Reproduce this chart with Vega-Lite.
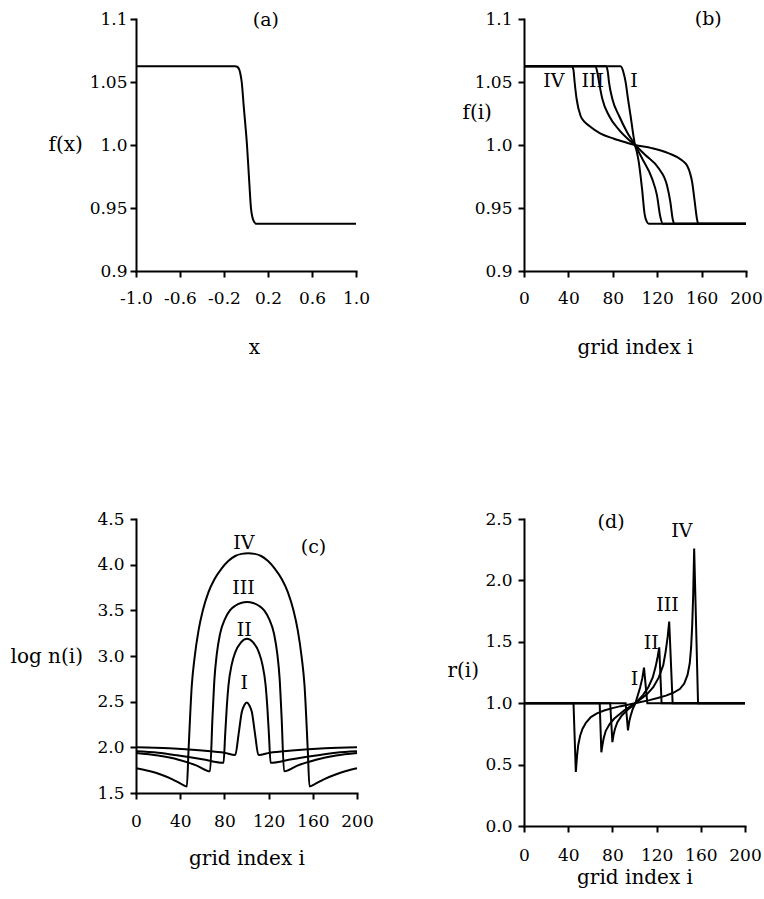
{
  "$schema": "https://vega.github.io/schema/vega-lite/v6.json",
  "background": "white",
  "padding": {"left": 10, "top": 10, "right": 5, "bottom": 5},
  "columns": 2,
  "spacing": {"row": 193, "column": 166},
  "bounds": "flush",
  "align": "all",
  "datasets": {
    "a": [
      {"x": -1, "f": 1.0625}, {"x": -0.5, "f": 1.0625}, {"x": -0.1, "f": 1.0625}, {"x": -0.08, "f": 1.0621},
      {"x": -0.06, "f": 1.0595}, {"x": -0.05, "f": 1.056}, {"x": -0.039, "f": 1.05}, {"x": -0.02, "f": 1.03},
      {"x": 0.009, "f": 1.0}, {"x": 0.03, "f": 0.97}, {"x": 0.045, "f": 0.95}, {"x": 0.06, "f": 0.942},
      {"x": 0.075, "f": 0.9388}, {"x": 0.09, "f": 0.9375}, {"x": 1, "f": 0.9375}
    ],
    "b": [
      {"s": "IV", "i": 0, "f": 1.0625}, {"s": "IV", "i": 43, "f": 1.0625}, {"s": "IV", "i": 44.5, "f": 1.06}, {"s": "IV", "i": 45.6, "f": 1.05},
      {"s": "IV", "i": 47.4, "f": 1.0365}, {"s": "IV", "i": 51, "f": 1.023}, {"s": "IV", "i": 55, "f": 1.018}, {"s": "IV", "i": 58.6, "f": 1.0153},
      {"s": "IV", "i": 69, "f": 1.009}, {"s": "IV", "i": 81, "f": 1.005}, {"s": "IV", "i": 92, "f": 1.002}, {"s": "IV", "i": 100, "f": 1.0},
      {"s": "IV", "i": 115, "f": 0.9975}, {"s": "IV", "i": 130, "f": 0.9935}, {"s": "IV", "i": 142, "f": 0.988}, {"s": "IV", "i": 147, "f": 0.9835},
      {"s": "IV", "i": 149.5, "f": 0.978}, {"s": "IV", "i": 151.4, "f": 0.971}, {"s": "IV", "i": 153.8, "f": 0.955}, {"s": "IV", "i": 155.9, "f": 0.941},
      {"s": "IV", "i": 157, "f": 0.9375}, {"s": "IV", "i": 200, "f": 0.9375},
      {"s": "III", "i": 0, "f": 1.0625}, {"s": "III", "i": 64, "f": 1.0625}, {"s": "III", "i": 66, "f": 1.058}, {"s": "III", "i": 67.6, "f": 1.0497},
      {"s": "III", "i": 70.6, "f": 1.0365}, {"s": "III", "i": 76.6, "f": 1.0232}, {"s": "III", "i": 85.6, "f": 1.012}, {"s": "III", "i": 94.6, "f": 1.004},
      {"s": "III", "i": 100, "f": 1.0}, {"s": "III", "i": 109.3, "f": 0.992}, {"s": "III", "i": 121.3, "f": 0.9815}, {"s": "III", "i": 128.8, "f": 0.968},
      {"s": "III", "i": 131.8, "f": 0.955}, {"s": "III", "i": 134, "f": 0.941}, {"s": "III", "i": 135.5, "f": 0.9375}, {"s": "III", "i": 200, "f": 0.9375},
      {"s": "II", "i": 0, "f": 1.0625}, {"s": "II", "i": 74, "f": 1.0625}, {"s": "II", "i": 75.5, "f": 1.058}, {"s": "II", "i": 76.6, "f": 1.0497},
      {"s": "II", "i": 79.6, "f": 1.0365}, {"s": "II", "i": 85.6, "f": 1.0232}, {"s": "II", "i": 93, "f": 1.01}, {"s": "II", "i": 100, "f": 1.0},
      {"s": "II", "i": 106.3, "f": 0.9895}, {"s": "II", "i": 115.3, "f": 0.9735}, {"s": "II", "i": 119.8, "f": 0.96}, {"s": "II", "i": 122.8, "f": 0.943},
      {"s": "II", "i": 125, "f": 0.9375}, {"s": "II", "i": 200, "f": 0.9375},
      {"s": "I", "i": 0, "f": 1.0625}, {"s": "I", "i": 87, "f": 1.0625}, {"s": "I", "i": 89.5, "f": 1.058}, {"s": "I", "i": 91.6, "f": 1.0497},
      {"s": "I", "i": 93.7, "f": 1.0365}, {"s": "I", "i": 96, "f": 1.0232}, {"s": "I", "i": 99, "f": 1.005}, {"s": "I", "i": 100, "f": 1.0},
      {"s": "I", "i": 101.5, "f": 0.995}, {"s": "I", "i": 103.3, "f": 0.987}, {"s": "I", "i": 106.3, "f": 0.9655}, {"s": "I", "i": 108.7, "f": 0.945},
      {"s": "I", "i": 110.7, "f": 0.939}, {"s": "I", "i": 112.5, "f": 0.9375}, {"s": "I", "i": 200, "f": 0.9375}
    ],
    "c": [
      {"s": "IV", "i": 0, "v": 1.77}, {"s": "IV", "i": 12, "v": 1.74}, {"s": "IV", "i": 23, "v": 1.7}, {"s": "IV", "i": 33, "v": 1.65},
      {"s": "IV", "i": 41.5, "v": 1.595}, {"s": "IV", "i": 46, "v": 1.572}, {"s": "IV", "i": 47.5, "v": 1.956}, {"s": "IV", "i": 50.5, "v": 2.68},
      {"s": "IV", "i": 53, "v": 2.98}, {"s": "IV", "i": 56.6, "v": 3.28}, {"s": "IV", "i": 60.5, "v": 3.5}, {"s": "IV", "i": 65.6, "v": 3.7},
      {"s": "IV", "i": 71, "v": 3.84}, {"s": "IV", "i": 77.6, "v": 3.96}, {"s": "IV", "i": 83.5, "v": 4.04}, {"s": "IV", "i": 89.8, "v": 4.095},
      {"s": "IV", "i": 95.5, "v": 4.118}, {"s": "IV", "i": 101.5, "v": 4.125}, {"s": "IV", "i": 107.5, "v": 4.118}, {"s": "IV", "i": 113.2, "v": 4.095},
      {"s": "IV", "i": 119.5, "v": 4.04}, {"s": "IV", "i": 125.4, "v": 3.96}, {"s": "IV", "i": 132, "v": 3.84}, {"s": "IV", "i": 137.4, "v": 3.7},
      {"s": "IV", "i": 142.5, "v": 3.5}, {"s": "IV", "i": 146.4, "v": 3.28}, {"s": "IV", "i": 150, "v": 2.98}, {"s": "IV", "i": 152.5, "v": 2.68},
      {"s": "IV", "i": 155.5, "v": 1.956}, {"s": "IV", "i": 157, "v": 1.572}, {"s": "IV", "i": 161.5, "v": 1.595}, {"s": "IV", "i": 170, "v": 1.65},
      {"s": "IV", "i": 180, "v": 1.7}, {"s": "IV", "i": 190, "v": 1.74}, {"s": "IV", "i": 200, "v": 1.77},
      {"s": "III", "i": 0, "v": 1.938}, {"s": "III", "i": 20, "v": 1.91}, {"s": "III", "i": 38.5, "v": 1.865}, {"s": "III", "i": 55, "v": 1.8},
      {"s": "III", "i": 67, "v": 1.738}, {"s": "III", "i": 69.2, "v": 2.32}, {"s": "III", "i": 71, "v": 2.75}, {"s": "III", "i": 73.1, "v": 3.02},
      {"s": "III", "i": 76, "v": 3.24}, {"s": "III", "i": 80.7, "v": 3.41}, {"s": "III", "i": 85, "v": 3.5}, {"s": "III", "i": 89.8, "v": 3.55},
      {"s": "III", "i": 95, "v": 3.58}, {"s": "III", "i": 100.5, "v": 3.59}, {"s": "III", "i": 106, "v": 3.58}, {"s": "III", "i": 111.2, "v": 3.55},
      {"s": "III", "i": 116, "v": 3.5}, {"s": "III", "i": 120.3, "v": 3.41}, {"s": "III", "i": 125, "v": 3.24}, {"s": "III", "i": 127.9, "v": 3.02},
      {"s": "III", "i": 130, "v": 2.75}, {"s": "III", "i": 131.8, "v": 2.32}, {"s": "III", "i": 134, "v": 1.738}, {"s": "III", "i": 146, "v": 1.8},
      {"s": "III", "i": 163, "v": 1.865}, {"s": "III", "i": 181, "v": 1.91}, {"s": "III", "i": 200, "v": 1.938},
      {"s": "II", "i": 0, "v": 1.956}, {"s": "II", "i": 20, "v": 1.94}, {"s": "II", "i": 38.5, "v": 1.91}, {"s": "II", "i": 60, "v": 1.87},
      {"s": "II", "i": 79.2, "v": 1.83}, {"s": "II", "i": 80.7, "v": 2.14}, {"s": "II", "i": 82.2, "v": 2.45}, {"s": "II", "i": 83.7, "v": 2.68},
      {"s": "II", "i": 86.5, "v": 2.9}, {"s": "II", "i": 89.8, "v": 3.04}, {"s": "II", "i": 95, "v": 3.15}, {"s": "II", "i": 100.5, "v": 3.19},
      {"s": "II", "i": 106, "v": 3.15}, {"s": "II", "i": 111.2, "v": 3.04}, {"s": "II", "i": 114.5, "v": 2.9}, {"s": "II", "i": 117.3, "v": 2.68},
      {"s": "II", "i": 118.8, "v": 2.45}, {"s": "II", "i": 120.3, "v": 2.14}, {"s": "II", "i": 121.8, "v": 1.83}, {"s": "II", "i": 141, "v": 1.87},
      {"s": "II", "i": 163, "v": 1.91}, {"s": "II", "i": 181, "v": 1.94}, {"s": "II", "i": 200, "v": 1.956},
      {"s": "I", "i": 0, "v": 2.0}, {"s": "I", "i": 30, "v": 1.99}, {"s": "I", "i": 60, "v": 1.965}, {"s": "I", "i": 80, "v": 1.94},
      {"s": "I", "i": 89.8, "v": 1.915}, {"s": "I", "i": 92.8, "v": 2.14}, {"s": "I", "i": 95.8, "v": 2.39}, {"s": "I", "i": 98, "v": 2.46},
      {"s": "I", "i": 100.3, "v": 2.49}, {"s": "I", "i": 102.5, "v": 2.46}, {"s": "I", "i": 104.8, "v": 2.39}, {"s": "I", "i": 107.8, "v": 2.14},
      {"s": "I", "i": 110.8, "v": 1.915}, {"s": "I", "i": 121, "v": 1.94}, {"s": "I", "i": 141, "v": 1.965}, {"s": "I", "i": 171, "v": 1.99},
      {"s": "I", "i": 200, "v": 2.0}
    ],
    "d": [
      {"s": "IV", "i": 0, "r": 1.0}, {"s": "IV", "i": 44.8, "r": 1.0}, {"s": "IV", "i": 46.9, "r": 0.44}, {"s": "IV", "i": 48, "r": 0.57},
      {"s": "IV", "i": 49, "r": 0.656}, {"s": "IV", "i": 50.8, "r": 0.735}, {"s": "IV", "i": 52.9, "r": 0.79}, {"s": "IV", "i": 56, "r": 0.84},
      {"s": "IV", "i": 60.5, "r": 0.887}, {"s": "IV", "i": 66, "r": 0.917}, {"s": "IV", "i": 72.5, "r": 0.94}, {"s": "IV", "i": 80, "r": 0.96},
      {"s": "IV", "i": 87.5, "r": 0.976}, {"s": "IV", "i": 100.5, "r": 1.0}, {"s": "IV", "i": 113.5, "r": 1.025}, {"s": "IV", "i": 121, "r": 1.042},
      {"s": "IV", "i": 128.5, "r": 1.062}, {"s": "IV", "i": 135, "r": 1.085}, {"s": "IV", "i": 141, "r": 1.115}, {"s": "IV", "i": 145, "r": 1.16},
      {"s": "IV", "i": 148, "r": 1.23}, {"s": "IV", "i": 150, "r": 1.325}, {"s": "IV", "i": 151.2, "r": 1.45}, {"s": "IV", "i": 152.2, "r": 1.63},
      {"s": "IV", "i": 153.1, "r": 1.88}, {"s": "IV", "i": 154, "r": 2.26}, {"s": "IV", "i": 157.5, "r": 1.0}, {"s": "IV", "i": 200, "r": 1.0},
      {"s": "III", "i": 0, "r": 1.0}, {"s": "III", "i": 68.5, "r": 1.0}, {"s": "III", "i": 70, "r": 0.6}, {"s": "III", "i": 71, "r": 0.66},
      {"s": "III", "i": 72, "r": 0.71}, {"s": "III", "i": 74, "r": 0.775}, {"s": "III", "i": 77.5, "r": 0.83}, {"s": "III", "i": 81.5, "r": 0.873},
      {"s": "III", "i": 90.5, "r": 0.94}, {"s": "III", "i": 100.7, "r": 1.0}, {"s": "III", "i": 111, "r": 1.07}, {"s": "III", "i": 117, "r": 1.13},
      {"s": "III", "i": 122, "r": 1.21}, {"s": "III", "i": 126, "r": 1.31}, {"s": "III", "i": 128.2, "r": 1.42}, {"s": "III", "i": 130, "r": 1.54},
      {"s": "III", "i": 131.4, "r": 1.665}, {"s": "III", "i": 134.5, "r": 1.0}, {"s": "III", "i": 200, "r": 1.0},
      {"s": "II", "i": 0, "r": 1.0}, {"s": "II", "i": 78, "r": 1.0}, {"s": "II", "i": 80, "r": 0.683}, {"s": "II", "i": 81, "r": 0.74},
      {"s": "II", "i": 82.3, "r": 0.79}, {"s": "II", "i": 84.5, "r": 0.846}, {"s": "II", "i": 88.5, "r": 0.9}, {"s": "II", "i": 93.5, "r": 0.945},
      {"s": "II", "i": 101, "r": 1.0}, {"s": "II", "i": 108, "r": 1.07}, {"s": "II", "i": 112.5, "r": 1.13}, {"s": "II", "i": 116.5, "r": 1.21},
      {"s": "II", "i": 119.2, "r": 1.3}, {"s": "II", "i": 121, "r": 1.38}, {"s": "II", "i": 122.4, "r": 1.455}, {"s": "II", "i": 124.5, "r": 1.0},
      {"s": "II", "i": 200, "r": 1.0},
      {"s": "I", "i": 0, "r": 1.0}, {"s": "I", "i": 92, "r": 1.0}, {"s": "I", "i": 94.1, "r": 0.778}, {"s": "I", "i": 95.2, "r": 0.85},
      {"s": "I", "i": 96.6, "r": 0.9}, {"s": "I", "i": 98.5, "r": 0.955}, {"s": "I", "i": 100.8, "r": 1.0}, {"s": "I", "i": 103, "r": 1.065},
      {"s": "I", "i": 105, "r": 1.125}, {"s": "I", "i": 107, "r": 1.2}, {"s": "I", "i": 108.6, "r": 1.29}, {"s": "I", "i": 111.6, "r": 1.0},
      {"s": "I", "i": 200, "r": 1.0}
    ]
  },
  "concat": [
    {
      "width": 220,
      "height": 252,
      "encoding": {
        "x": {"field": "x", "type": "quantitative", "scale": {"domain": [-1, 1], "nice": false, "zero": false},
          "axis": {"title": "x", "values": [-1, -0.6, -0.2, 0.2, 0.6, 1], "labelExpr": "replace(format(datum.value, '.1f'), '\u2212', '-')", "titleX": 118, "titleY": 76}},
        "y": {"field": "f", "type": "quantitative", "scale": {"domain": [0.9, 1.1], "nice": false, "zero": false},
          "axis": {"title": "f(x)", "values": [0.9, 0.95, 1.0, 1.05, 1.1], "labelExpr": "datum.value == 1 ? '1.0' : format(datum.value, '.2~f')", "labelPadding": 3, "titleX": -88, "titleY": 125}}
      },
      "layer": [
        {"data": {"name": "a"}, "mark": {"type": "line", "interpolate": "monotone"}},
        {"data": {"values": [{"x": 0.18, "f": 1.099, "t": "(a)"}]}, "mark": {"type": "text"}, "encoding": {"text": {"field": "t"}}}
      ]
    },
    {
      "width": 222,
      "height": 252,
      "encoding": {
        "x": {"field": "i", "type": "quantitative", "scale": {"domain": [0, 200], "nice": false},
          "axis": {"title": "grid index i", "values": [0, 40, 80, 120, 160, 200], "titleY": 76}},
        "y": {"field": "f", "type": "quantitative", "scale": {"domain": [0.9, 1.1], "nice": false, "zero": false},
          "axis": {"title": "f(i)", "values": [0.9, 0.95, 1.0, 1.05, 1.1], "labelExpr": "datum.value == 1 ? '1.0' : format(datum.value, '.2~f')", "titleX": -62, "titleY": 93}}
      },
      "layer": [
        {"data": {"name": "b"}, "mark": {"type": "line", "interpolate": "monotone"}, "encoding": {"detail": {"field": "s"}}},
        {"data": {"values": [{"i": 27, "f": 1.051, "t": "IV"}, {"i": 62, "f": 1.051, "t": "III"}, {"i": 99, "f": 1.051, "t": "I"}, {"i": 166, "f": 1.1, "t": "(b)"}]},
          "mark": {"type": "text"}, "encoding": {"text": {"field": "t"}}}
      ]
    },
    {
      "width": 221,
      "height": 274,
      "encoding": {
        "x": {"field": "i", "type": "quantitative", "scale": {"domain": [0, 200], "nice": false},
          "axis": {"title": "grid index i", "values": [0, 40, 80, 120, 160, 200], "labelPadding": 14, "titleY": 65}},
        "y": {"field": "v", "type": "quantitative", "scale": {"domain": [1.5, 4.5], "nice": false, "zero": false},
          "axis": {"title": "log n(i)", "values": [1.5, 2.0, 2.5, 3.0, 3.5, 4.0, 4.5], "format": ".1f", "titleX": -126, "titleY": 137}}
      },
      "layer": [
        {"data": {"name": "c"}, "mark": {"type": "line", "interpolate": "monotone"}, "encoding": {"detail": {"field": "s"}}},
        {"data": {"values": [{"i": 97.7, "v": 4.236, "t": "IV"}, {"i": 97.3, "v": 3.74, "t": "III"}, {"i": 98, "v": 3.28, "t": "II"}, {"i": 98, "v": 2.7, "t": "I"}, {"i": 160.6, "v": 4.19, "t": "(c)"}]},
          "mark": {"type": "text"}, "encoding": {"text": {"field": "t"}}}
      ]
    },
    {
      "width": 221,
      "height": 307,
      "encoding": {
        "x": {"field": "i", "type": "quantitative", "scale": {"domain": [0, 200], "nice": false},
          "axis": {"title": "grid index i", "values": [0, 40, 80, 120, 160, 200], "labelPadding": 15, "titleY": 51}},
        "y": {"field": "r", "type": "quantitative", "scale": {"domain": [0, 2.5], "nice": false},
          "axis": {"title": "r(i)", "values": [0, 0.5, 1.0, 1.5, 2.0, 2.5], "format": ".1f", "titleX": -77, "titleY": 151}}
      },
      "layer": [
        {"data": {"name": "d"}, "mark": {"type": "line"}, "encoding": {"detail": {"field": "s"}}},
        {"data": {"values": [{"i": 78.8, "r": 2.476, "t": "(d)"}, {"i": 142.9, "r": 2.4, "t": "IV"}, {"i": 129.8, "r": 1.796, "t": "III"}, {"i": 115.2, "r": 1.493, "t": "II"}, {"i": 100, "r": 1.194, "t": "I"}]},
          "mark": {"type": "text"}, "encoding": {"text": {"field": "t"}}}
      ]
    }
  ],
  "config": {
    "view": {"stroke": null},
    "axis": {
      "domainColor": "black", "domainWidth": 2, "domainCap": "square",
      "tickColor": "black", "tickWidth": 2, "tickSize": 6,
      "labelFont": "DejaVu Serif", "labelFontSize": 17, "labelColor": "black",
      "titleFont": "DejaVu Serif", "titleFontSize": 20, "titleFontWeight": "normal", "titleColor": "black",
      "grid": false, "labelFlush": false, "labelOverlap": false, "labelBound": false
    },
    "axisX": {"labelPadding": 13, "titleBaseline": "middle", "titleAlign": "center"},
    "axisY": {"labelPadding": 6, "titleAngle": 0, "titleAlign": "left", "titleBaseline": "middle"},
    "text": {"font": "DejaVu Serif", "fontSize": 19, "color": "black", "baseline": "middle", "align": "center"},
    "line": {"color": "black", "strokeWidth": 2}
  }
}
